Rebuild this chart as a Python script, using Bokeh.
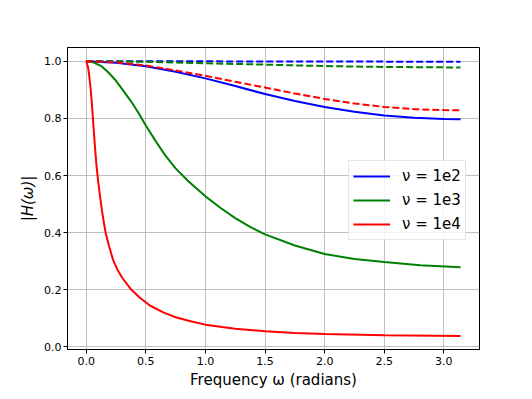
from bokeh.plotting import figure
from bokeh.models import FixedTicker, Range1d, Legend, LegendItem, PrintfTickFormatter
from bokeh.embed import file_html
from bokeh.resources import INLINE

# ---- data ----
x_ticks = [0.0, 0.5, 1.0, 1.5, 2.0, 2.5, 3.0]
y_ticks = [0.0, 0.2, 0.4, 0.6, 0.8, 1.0]
legend_labels = ["ν = 1e2", "ν = 1e3", "ν = 1e4"]

# nu = 1e2 solid
w_1e2 = [0.0, 0.25, 0.5, 0.75, 1.0, 1.25, 1.5, 1.75, 2.0, 2.25, 2.5, 2.75, 3.0, 3.14]
H_1e2 = [1.0, 0.995, 0.982, 0.963, 0.94, 0.913, 0.885, 0.861, 0.84, 0.823, 0.81, 0.802, 0.798, 0.797]
# nu = 1e2 dashed
w_1e2_d = [0.0, 1.0, 2.0, 3.14]
H_1e2_d = [1.0, 0.9995, 0.999, 0.998]

# nu = 1e3 solid
w_1e3 = [0.0, 0.06, 0.126, 0.18, 0.239, 0.3, 0.379, 0.44, 0.5, 0.58, 0.66, 0.75, 0.857, 0.93, 1.0,
         1.125, 1.25, 1.375, 1.5, 1.75, 2.0, 2.25, 2.5, 2.8, 3.14]
H_1e3 = [1.0, 0.996, 0.983, 0.963, 0.937, 0.903, 0.858, 0.818, 0.775, 0.722, 0.672, 0.625, 0.58, 0.553, 0.527,
         0.487, 0.451, 0.42, 0.394, 0.355, 0.325, 0.308, 0.297, 0.286, 0.279]
# nu = 1e3 dashed
w_1e3_d = [0.0, 0.5, 1.0, 1.5, 2.0, 2.5, 3.14]
H_1e3_d = [1.0, 0.998, 0.993, 0.988, 0.983, 0.98, 0.978]

# nu = 1e4 solid
w_1e4 = [0.0, 0.015, 0.025, 0.036, 0.046, 0.056, 0.07, 0.085, 0.1, 0.115, 0.132, 0.15, 0.163, 0.19,
         0.225, 0.26, 0.3, 0.379, 0.45, 0.534, 0.646, 0.75, 0.875, 1.0, 1.25, 1.5, 1.75, 2.0, 2.5, 3.14]
H_1e4 = [1.0, 0.98, 0.95, 0.908, 0.86, 0.8, 0.72, 0.64, 0.58, 0.53, 0.477, 0.43, 0.4, 0.355,
         0.305, 0.272, 0.243, 0.2, 0.172, 0.145, 0.121, 0.104, 0.09, 0.078, 0.064, 0.055, 0.049, 0.045, 0.041, 0.038]
# nu = 1e4 dashed
w_1e4_d = [0.0, 0.25, 0.5, 0.75, 1.0, 1.25, 1.5, 1.75, 2.0, 2.25, 2.5, 2.75, 3.0, 3.14]
H_1e4_d = [1.0, 0.996, 0.985, 0.968, 0.949, 0.928, 0.908, 0.887, 0.868, 0.852, 0.84, 0.832, 0.829, 0.828]

FONT = "DejaVu Sans"

p = figure(width=524, height=391, output_backend="svg", toolbar_location=None,
           x_range=Range1d(-0.157, 3.299), y_range=Range1d(-0.009, 1.048),
           min_border_left=67, min_border_right=45, min_border_top=47, min_border_bottom=37,
           background_fill_color="white", border_fill_color="white")

p.outline_line_color = "black"
p.outline_line_width = 1

BLUE, GREEN, RED = "#0000ff", "#008000", "#ff0000"
LW = 2
DASH = "7 3"

r_b = p.line(w_1e2, H_1e2, line_color=BLUE, line_width=LW)
p.line(w_1e2_d, H_1e2_d, line_color=BLUE, line_width=LW, line_dash=DASH)
r_g = p.line(w_1e3, H_1e3, line_color=GREEN, line_width=LW)
p.line(w_1e3_d, H_1e3_d, line_color=GREEN, line_width=LW, line_dash=DASH)
r_r = p.line(w_1e4, H_1e4, line_color=RED, line_width=LW)
p.line(w_1e4_d, H_1e4_d, line_color=RED, line_width=LW, line_dash=DASH)

# axes
for ax, ticks in ((p.xaxis, x_ticks), (p.yaxis, y_ticks)):
    ax.ticker = FixedTicker(ticks=ticks)
    ax.formatter = PrintfTickFormatter(format="%.1f")
    ax.major_tick_in = 0
    ax.major_tick_out = 4
    ax.minor_tick_line_color = None
    ax.axis_line_color = "black"
    ax.major_tick_line_color = "black"
    ax.major_label_text_font = FONT
    ax.major_label_text_font_size = "11px"
    ax.major_label_text_color = "black"
    ax.axis_label_text_font = FONT
    ax.axis_label_text_font_size = "15px"
    ax.axis_label_text_color = "black"

p.xaxis.axis_label = "Frequency ω (radians)"
p.xaxis.axis_label_text_font_style = "normal"
p.xaxis.major_label_standoff = 3
p.xaxis.axis_label_standoff = 3
p.yaxis.axis_label = "|H(ω)|"
p.yaxis.axis_label_text_font_style = "italic"
p.yaxis.major_label_standoff = 2
p.yaxis.axis_label_standoff = 4

p.grid.grid_line_color = "#b0b0b0"
p.grid.grid_line_alpha = 0.8
p.grid.grid_line_width = 1

legend = Legend(
    items=[LegendItem(label=legend_labels[0], renderers=[r_b]),
           LegendItem(label=legend_labels[1], renderers=[r_g]),
           LegendItem(label=legend_labels[2], renderers=[r_r])],
    location=(281, 109),
    label_text_font=FONT, label_text_font_size="15px", label_text_color="black",
    glyph_width=37, glyph_height=22, label_height=22, label_standoff=12,
    padding=4, spacing=2, margin=0,
    border_line_color="#cccccc", border_line_width=1,
    background_fill_color="white", background_fill_alpha=0.8,
)
p.add_layout(legend, "center")

open("out.html", "w").write(file_html(p, INLINE))
